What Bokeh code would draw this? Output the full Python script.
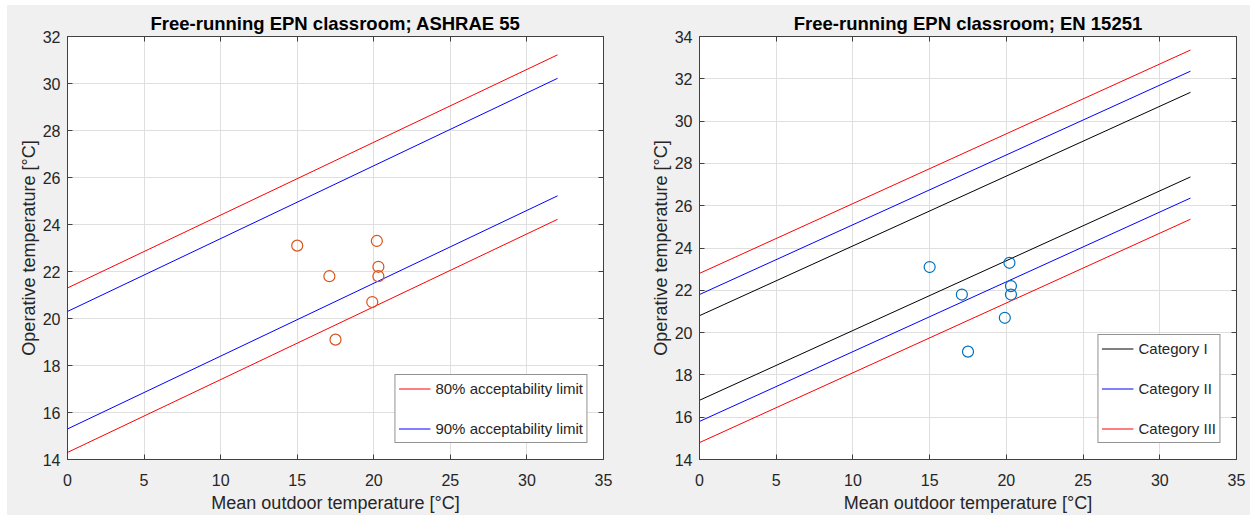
from bokeh.plotting import figure
from bokeh.layouts import row
from bokeh.models import Range1d, LinearAxis, Legend, LegendItem, FixedTicker
from bokeh.embed import file_html
from bokeh.resources import INLINE

# ---- data ----
outdoor_temp = [15.0, 17.1, 17.5, 19.9, 20.2, 20.3, 20.3]
operative_temp = [23.1, 21.8, 19.1, 20.7, 23.3, 22.2, 21.8]

line_x = [0, 32]
# ASHRAE 55 limits
ashrae_80_upper = [21.3, 31.22]
ashrae_80_lower = [14.3, 24.22]
ashrae_90_upper = [20.3, 30.22]
ashrae_90_lower = [15.3, 25.22]
# EN 15251 categories
en_cat1_upper = [20.8, 31.36]
en_cat1_lower = [16.8, 27.36]
en_cat2_upper = [21.8, 32.36]
en_cat2_lower = [15.8, 26.36]
en_cat3_upper = [22.8, 33.36]
en_cat3_lower = [14.8, 25.36]

x_ticks = [0, 5, 10, 15, 20, 25, 30, 35]
y_ticks_left = [14, 16, 18, 20, 22, 24, 26, 28, 30, 32]
y_ticks_right = [14, 16, 18, 20, 22, 24, 26, 28, 30, 32, 34]

FONT = "Liberation Sans"
AX = "#404040"
TXT = "#262626"
BG = "#f0f0f0"
H = 510


def make_fig(title, ymax, yticks, w, bl, br):
    p = figure(width=w, height=H, x_range=Range1d(0, 35), y_range=Range1d(14, ymax),
               output_backend="svg", toolbar_location=None,
               min_border_left=bl, min_border_right=br, min_border_top=31, min_border_bottom=54)
    p.border_fill_color = BG
    p.background_fill_color = "white"
    p.outline_line_color = AX
    p.title.text = title
    p.title.align = "center"
    p.title.text_font = FONT
    p.title.text_font_size = "18.5px"
    p.title.text_font_style = "bold"
    p.title.text_color = "black"
    p.title.standoff = 6
    p.xaxis.ticker = FixedTicker(ticks=x_ticks)
    p.yaxis.ticker = FixedTicker(ticks=yticks)
    for ax in (p.xaxis[0], p.yaxis[0]):
        ax.major_tick_in = 5
        ax.major_tick_out = 0
        ax.minor_tick_line_color = None
        ax.axis_line_color = AX
        ax.major_tick_line_color = AX
        ax.major_label_text_font = FONT
        ax.major_label_text_font_size = "16px"
        ax.major_label_text_color = TXT
        ax.axis_label_text_font = FONT
        ax.axis_label_text_font_size = "18px"
        ax.axis_label_text_font_style = "normal"
        ax.axis_label_text_color = TXT
    p.xaxis.axis_label = "Mean outdoor temperature [°C]"
    p.yaxis.axis_label = "Operative temperature [°C]"
    p.xaxis.major_label_standoff = 14
    p.xaxis.axis_label_standoff = 4
    p.yaxis.major_label_standoff = 7
    p.yaxis.axis_label_standoff = 1
    # box ticks on top/right (labels not drawn)
    top = LinearAxis(ticker=FixedTicker(ticks=x_ticks), major_label_text_font_size="1px",
                     major_label_text_color=None,
                     major_tick_in=5, major_tick_out=0, minor_tick_line_color=None,
                     axis_line_color=AX, major_tick_line_color=AX, major_label_standoff=0)
    right = LinearAxis(ticker=FixedTicker(ticks=yticks), major_label_text_font_size="1px",
                       major_label_text_color=None,
                       major_tick_in=5, major_tick_out=0, minor_tick_line_color=None,
                       axis_line_color=AX, major_tick_line_color=AX, major_label_standoff=0)
    p.add_layout(top, "above")
    p.add_layout(right, "right")
    p.grid.grid_line_color = "#dfdfdf"
    p.grid.grid_line_width = 1
    return p


def style_legend(p, items):
    leg = Legend(items=items, location="bottom_right")
    leg.label_text_font = FONT
    leg.label_text_font_size = "15px"
    leg.label_text_color = TXT
    leg.glyph_width = 32
    leg.glyph_height = 21
    leg.label_height = 21
    leg.label_standoff = 5
    leg.spacing = 19
    leg.padding = 3
    leg.margin = 16
    leg.border_line_color = "#262626"
    leg.border_line_width = 1
    leg.background_fill_color = "white"
    leg.background_fill_alpha = 1
    p.add_layout(leg)


# ---- left: ASHRAE 55 ----
p1 = make_fig("Free-running EPN classroom; ASHRAE 55", 32, y_ticks_left, 627, 60, 31)
r80 = p1.line(line_x, ashrae_80_upper, line_color="red", line_width=1)
p1.line(line_x, ashrae_80_lower, line_color="red", line_width=1)
r90 = p1.line(line_x, ashrae_90_upper, line_color="blue", line_width=1)
p1.line(line_x, ashrae_90_lower, line_color="blue", line_width=1)
p1.scatter(outdoor_temp, operative_temp, marker="circle", size=11, fill_color=None,
           line_color="#D95319", line_width=1.2)
style_legend(p1, [LegendItem(label="80% acceptability limit", renderers=[r80]),
                  LegendItem(label="90% acceptability limit", renderers=[r90])])

# ---- right: EN 15251 ----
p2 = make_fig("Free-running EPN classroom; EN 15251", 34, y_ticks_right, 616, 65, 14)
k1 = p2.line(line_x, en_cat1_upper, line_color="black", line_width=1)
p2.line(line_x, en_cat1_lower, line_color="black", line_width=1)
k2 = p2.line(line_x, en_cat2_upper, line_color="blue", line_width=1)
p2.line(line_x, en_cat2_lower, line_color="blue", line_width=1)
k3 = p2.line(line_x, en_cat3_upper, line_color="red", line_width=1)
p2.line(line_x, en_cat3_lower, line_color="red", line_width=1)
p2.scatter(outdoor_temp, operative_temp, marker="circle", size=11, fill_color=None,
           line_color="#0072BD", line_width=1.2)
style_legend(p2, [LegendItem(label="Category I", renderers=[k1]),
                  LegendItem(label="Category II", renderers=[k2]),
                  LegendItem(label="Category III", renderers=[k3])])

layout = row(p1, p2, margin=(5, 0, 0, 7), styles={"background-color": BG})
open("out.html", "w").write(file_html(layout, INLINE))
